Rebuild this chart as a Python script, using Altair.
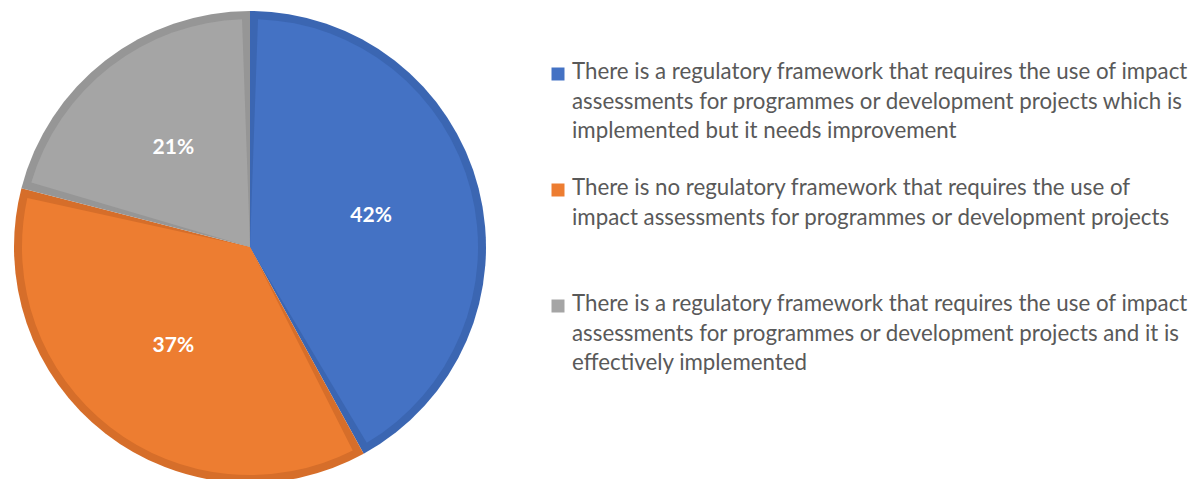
import altair as alt
import pandas as pd

categories = [
    "There is a regulatory framework that requires the use of impact|assessments for programmes or development projects which is|implemented but it needs improvement",
    "There is no regulatory framework that requires the use of|impact assessments for programmes or development projects",
    "There is a regulatory framework that requires the use of impact|assessments for programmes or development projects and it is|effectively implemented",
]
values = [42, 37, 21]
labels = ["42%", "37%", "21%"]
order = [1, 2, 3]

fill_colors = ["#4472C4", "#ED7D31", "#A5A5A5"]
edge_colors = ["#3B66B2", "#D66E2A", "#969696"]

df = pd.DataFrame({"category": categories, "value": values, "label": labels, "idx": order})

cx, cy = 242, 239
R = 236
border = 8

fill_scale = alt.Scale(domain=categories, range=fill_colors)
legend_y = alt.Y("category:N", sort=categories, axis=None,
                 scale=alt.Scale(type="point", domain=categories, range=[53, 285], padding=0))

base = alt.Chart(df).encode(
    theta=alt.Theta("value:Q", stack=True),
    order=alt.Order("idx:Q"),
)

dark = base.mark_arc(outerRadius=R, strokeWidth=0).encode(
    x=alt.value(cx), y=alt.value(cy),
    color=alt.Color("category:N", scale=alt.Scale(domain=categories, range=edge_colors), legend=None),
)

light = base.mark_arc(outerRadius=R - border, padAngle=2 * border / (R - border), strokeWidth=0).encode(
    x=alt.value(cx), y=alt.value(cy),
    fill=alt.Fill("category:N", scale=fill_scale, legend=None),
)

pct = base.mark_text(radius=125, font="Lato", fontWeight="bold", fontSize=21, color="white").encode(
    x=alt.value(cx), y=alt.value(cy),
    text="label:N",
)

legend_text = (
    alt.Chart(df)
    .transform_calculate(lines="split(datum.category, '|')")
    .mark_text(align="left", baseline="top", font="Lato", fontSize=22.3, lineHeight=29.5, color="#595959")
    .encode(x=alt.value(564), y=legend_y, text="lines:N")
)

legend_sym = (
    alt.Chart(df)
    .mark_square(size=169, opacity=1, yOffset=13)
    .encode(x=alt.value(550), y=legend_y, fill=alt.Fill("category:N", scale=fill_scale, legend=None))
)

chart = (
    alt.layer(dark, light, pct, legend_sym, legend_text)
    .resolve_scale(color="independent")
    .properties(width=1180, height=471, padding=0, autosize=alt.AutoSizeParams(type="none"))
    .configure_view(stroke=None)
)

chart.save("out.html", embed_options={"renderer": "svg", "actions": False})
